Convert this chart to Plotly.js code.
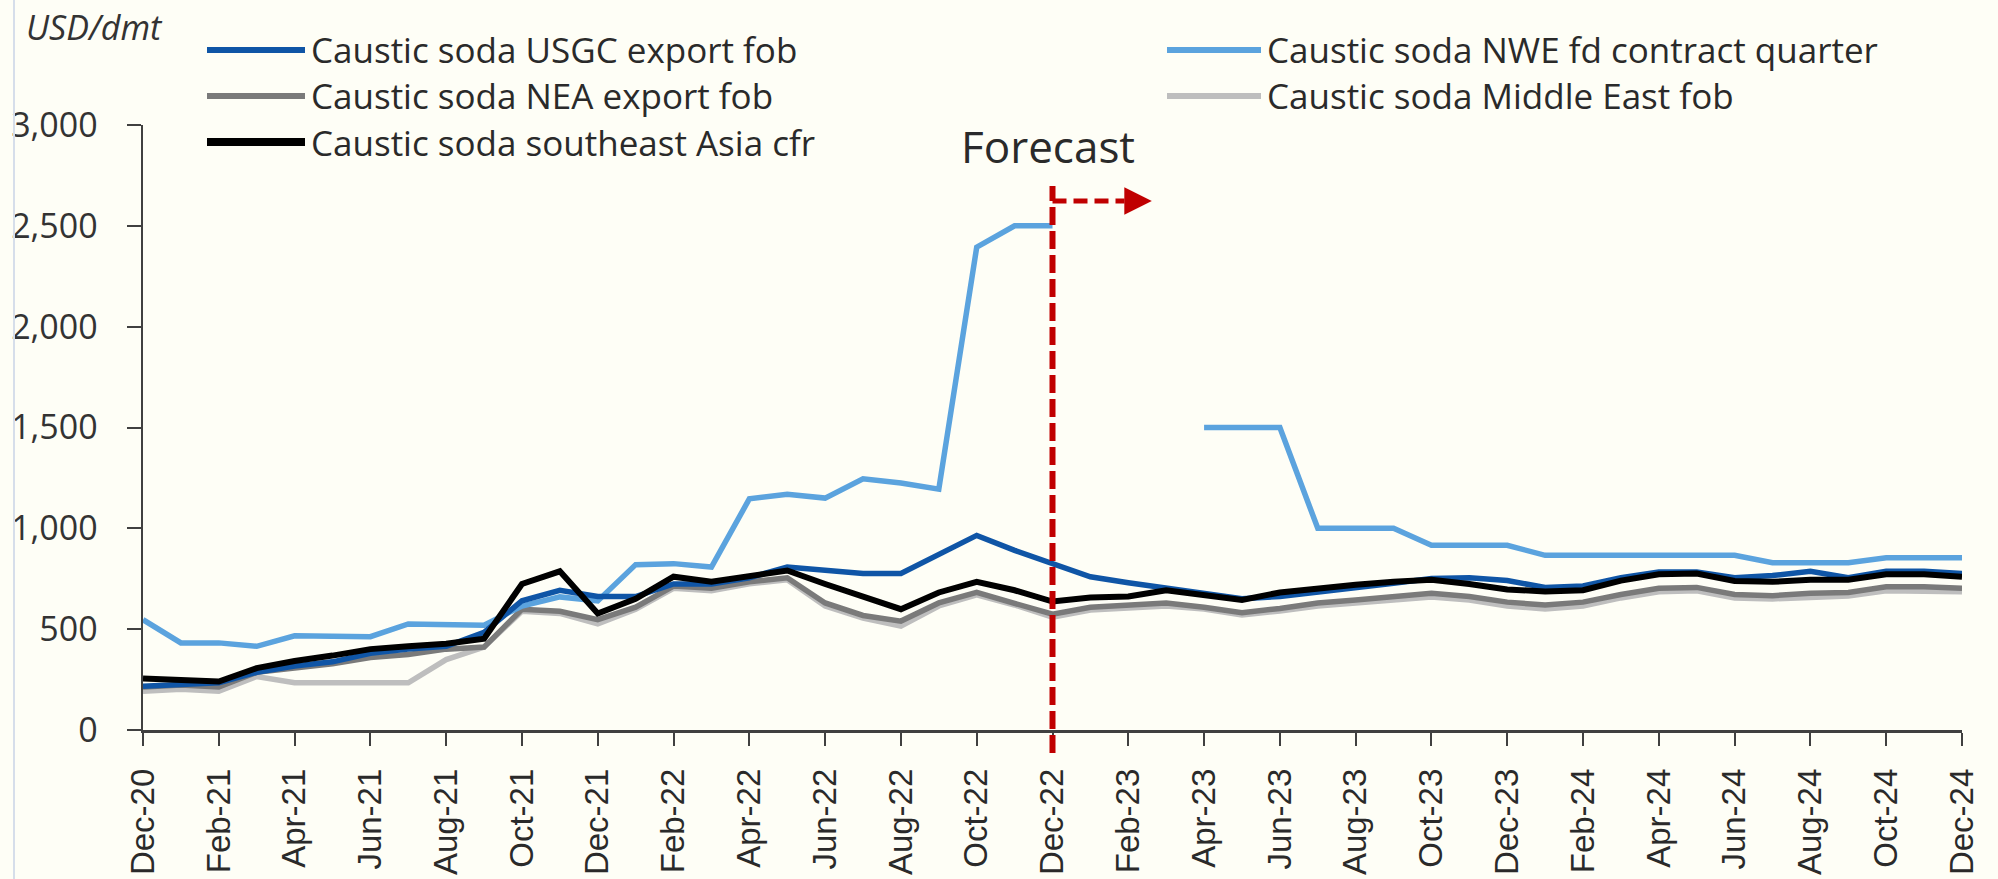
<!DOCTYPE html>
<html>
<head>
<meta charset="utf-8">
<script src="https://cdn.plot.ly/plotly-3.0.1.min.js"></script>
<style>
  html, body { margin: 0; padding: 0; background: #FEFEF6; }
  #chart { width: 1998px; height: 879px; }
</style>
</head>
<body>
<div id="chart"></div>
<script>
// ---------------- DATA ----------------
const months = [
  "Dec-20","Jan-21","Feb-21","Mar-21","Apr-21","May-21","Jun-21","Jul-21","Aug-21","Sep-21","Oct-21","Nov-21",
  "Dec-21","Jan-22","Feb-22","Mar-22","Apr-22","May-22","Jun-22","Jul-22","Aug-22","Sep-22","Oct-22","Nov-22",
  "Dec-22","Jan-23","Feb-23","Mar-23","Apr-23","May-23","Jun-23","Jul-23","Aug-23","Sep-23","Oct-23","Nov-23",
  "Dec-23","Jan-24","Feb-24","Mar-24","Apr-24","May-24","Jun-24","Jul-24","Aug-24","Sep-24","Oct-24","Nov-24",
  "Dec-24"
];

const usgcExportFob = [217,223,234,286,317,338,380,401,415,484,641,693,
  662,662,724,724,755,808,791,776,776,874,965,891,
  822,760,730,703,678,651,662,682,703,728,751,755,
  741,707,714,755,783,783,755,766,787,755,787,787,776];

const nweContractQuarter = [547,432,432,415,467,467,463,526,526,520,615,660,
  640,820,825,808,1146,1169,1150,1246,1225,1194,2394,2500,
  2500,null,null,null,1500,1500,1500,1000,1000,1000,916,916,
  916,866,866,866,866,866,866,829,829,829,854,854,854];

const neaExportFob = [213,223,213,286,307,328,359,374,401,411,599,589,
  547,609,714,703,735,755,630,568,540,630,682,630,
  574,609,620,630,609,582,603,630,645,662,678,662,
  634,620,634,672,703,707,672,666,678,682,710,710,703];

const middleEastFob = [192,202,192,265,234,234,234,234,349,411,589,578,
  526,599,703,690,725,745,615,555,515,615,670,620,
  560,595,605,615,600,570,590,615,630,645,660,645,
  615,600,615,655,685,690,655,650,660,665,690,690,685];

const seAsiaCfr = [255,250,240,307,342,369,401,415,428,453,724,787,
  578,651,760,735,762,791,724,662,599,682,735,693,
  637,657,662,693,672,645,682,703,720,735,745,724,
  697,687,693,741,772,776,739,735,745,745,772,772,760];

const seriesNames = [
  "Caustic soda USGC export fob",
  "Caustic soda NWE fd contract quarter",
  "Caustic soda NEA export fob",
  "Caustic soda Middle East fob",
  "Caustic soda southeast Asia cfr"
];
const yTicks = [0, 500, 1000, 1500, 2000, 2500, 3000];
const forecastStart = "Dec-22";
const unitLabel = "USD/dmt";
const forecastLabel = "Forecast";

// ---------------- STYLE / LAYOUT ----------------
const W = 1998, H = 879;
const M = { l: 143, r: 36, t: 125, b: 149 };
const PW = W - M.l - M.r, PH = H - M.t - M.b;
const px = x => (x - M.l) / PW;          // pixel -> paper x
const py = y => (H - M.b - y) / PH;      // pixel -> paper y

const colors = {
  usgc: "#0F55A6",
  nwe: "#5BA3DE",
  nea: "#7A7A7A",
  me: "#BEBEBE",
  sea: "#000000"
};
const bg = "#FEFEF6";
const axisColor = "#404040";
const textColor = "#2A2A2A";

function line(y, name, color, width) {
  return {
    type: "scatter", mode: "lines", x: months, y: y, name: name,
    line: { color: color, width: width }, connectgaps: false,
    showlegend: false, hoverinfo: "x+y+name"
  };
}

const traces = [
  line(middleEastFob, seriesNames[3], colors.me, 5.5),
  line(neaExportFob, seriesNames[2], colors.nea, 5.5),
  line(nweContractQuarter, seriesNames[1], colors.nwe, 5.5),
  line(usgcExportFob, seriesNames[0], colors.usgc, 5.5),
  line(seAsiaCfr, seriesNames[4], colors.sea, 6)
];

// Legend drawn manually (long line swatches, two columns)
const legendItems = [
  { name: seriesNames[0], color: colors.usgc, x0: 207, x1: 305, y: 50, w: 6 },
  { name: seriesNames[2], color: colors.nea,  x0: 207, x1: 305, y: 96, w: 6 },
  { name: seriesNames[4], color: colors.sea,  x0: 207, x1: 305, y: 142, w: 8 },
  { name: seriesNames[1], color: colors.nwe,  x0: 1167, x1: 1261, y: 50, w: 6 },
  { name: seriesNames[3], color: colors.me,   x0: 1167, x1: 1261, y: 96, w: 6 }
];

const fIdx = months.indexOf(forecastStart);
const red = "#C00000";

const shapes = [
  // faint left border
  { type: "line", xref: "paper", yref: "paper", x0: px(14), x1: px(14), y0: py(0), y1: py(H),
    line: { color: "#D6DEEA", width: 2 } },
  // forecast divider
  { type: "line", xref: "x", yref: "paper", x0: fIdx, x1: fIdx, y0: py(753), y1: py(186),
    line: { color: red, width: 6, dash: "18px,6px" }, layer: "above" },
  // forecast arrow shaft
  { type: "line", xref: "x", yref: "paper", x0: fIdx, x1: fIdx + 1.9, y0: py(201), y1: py(201),
    line: { color: red, width: 5, dash: "14px,7px" }, layer: "above" }
];
legendItems.forEach(it => {
  shapes.push({ type: "line", xref: "paper", yref: "paper",
    x0: px(it.x0), x1: px(it.x1), y0: py(it.y), y1: py(it.y),
    line: { color: it.color, width: it.w } });
});

const annotations = [
  { xref: "paper", yref: "paper", x: px(24), y: py(27), text: "<i>" + unitLabel + "</i>",
    showarrow: false, xanchor: "left", yanchor: "middle",
    font: { family: "Open Sans", size: 34, color: "#333333" } },
  { xref: "x", yref: "paper", x: fIdx, xshift: -5, y: py(146), text: forecastLabel,
    showarrow: false, xanchor: "center", yanchor: "middle",
    font: { family: "Open Sans", size: 44, color: textColor } },
  // arrow head
  { xref: "x", yref: "paper", x: fIdx + 2.62, y: py(201), ax: -24, ay: 0, text: "",
    showarrow: true, arrowhead: 2, arrowsize: 1.1, arrowwidth: 5, arrowcolor: red }
];
legendItems.forEach(it => {
  annotations.push({ xref: "paper", yref: "paper", x: px(it.x1 + 4), y: py(it.y),
    text: it.name, showarrow: false, xanchor: "left", yanchor: "middle",
    font: { family: "Open Sans", size: 35, color: textColor } });
});

const layout = {
  width: W, height: H,
  margin: M,
  paper_bgcolor: bg, plot_bgcolor: bg,
  showlegend: false,
  xaxis: {
    type: "category", range: [0, months.length - 1],
    tickmode: "array", tickvals: months.filter((m, i) => i % 2 === 0),
    tickangle: -90, ticks: "outside", ticklen: 13, tickwidth: 2, tickcolor: axisColor,
    showline: true, linecolor: axisColor, linewidth: 2.5,
    showgrid: false, zeroline: false, ticklabelstandoff: 10,
    tickfont: { family: "Liberation Sans, Arial", size: 33, color: textColor },
    fixedrange: true
  },
  yaxis: {
    range: [0, 3000], tickmode: "array", tickvals: yTicks, tickformat: ",",
    ticks: "outside", ticklen: 14, tickwidth: 2, tickcolor: axisColor,
    showline: true, linecolor: axisColor, linewidth: 2.5,
    showgrid: false, zeroline: false, ticklabelstandoff: 22,
    tickfont: { family: "Open Sans", size: 34, color: "#333333" },
    fixedrange: true
  },
  shapes: shapes,
  annotations: annotations
};

Plotly.newPlot("chart", traces, layout, { displayModeBar: false, staticPlot: true });
</script>
</body>
</html>
